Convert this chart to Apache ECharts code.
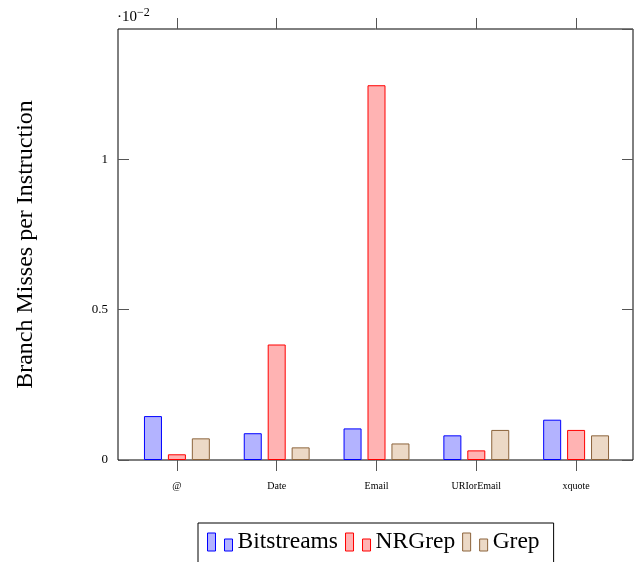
<!DOCTYPE html>
<html><head><meta charset="utf-8">
<script src="https://cdn.jsdelivr.net/npm/echarts@6/dist/echarts.min.js"></script>
<style>html,body{margin:0;padding:0;background:#fff}#c{width:637px;height:562px}</style>
</head><body><div id="c"></div>
<script>
// values in units of 10^-2
const categories = ['@', 'Date', 'Email', 'URIorEmail', 'xquote'];
const bitstreams = [0.146, 0.089, 0.105, 0.082, 0.134];
const nrgrep = [0.019, 0.384, 1.246, 0.032, 0.100];
const grep = [0.072, 0.042, 0.055, 0.100, 0.082];
const yTicks = [0, 0.5, 1];
const yMax = 1.433;

const serif = 'Liberation Serif';
const iconPath = 'path://M0,0h8v18h-8z M17,6h8v12h-8z';

const chart = echarts.init(document.getElementById('c'), null, {renderer: 'canvas'});
function bar(name, data, fill, stroke) {
  return {
    name, type: 'bar', data, xAxisIndex: 2, yAxisIndex: 2,
    barWidth: 18, barGap: '33%',
    itemStyle: {color: fill, borderColor: stroke, borderWidth: 1},
    emphasis: {disabled: true}, animation: false
  };
}
const tickStyle = {color: '#555'};
chart.setOption({
  animation: false,
  grid: [
    {left: 118, right: 4, top: 29, bottom: 102, show: true, borderColor: '#000', borderWidth: 1, backgroundColor: 'transparent'},
    {left: 127, right: 11, top: 29, bottom: 102}
  ],
  xAxis: [
    {gridIndex: 0, type: 'value', min: 0, max: 1, show: false},
    {gridIndex: 1, type: 'category', data: categories, position: 'top', axisLine: {show: false, onZero: false},
     axisTick: {show: true, alignWithLabel: true, length: 11, lineStyle: tickStyle}, axisLabel: {show: false}},
    {gridIndex: 1, type: 'category', data: categories, position: 'bottom', axisLine: {show: false, onZero: false},
     axisTick: {show: true, alignWithLabel: true, length: 11, lineStyle: tickStyle},
     axisLabel: {show: true, margin: 21, fontFamily: serif, fontSize: 10, color: '#000'}}
  ],
  yAxis: [
    {gridIndex: 0, type: 'value', min: 0, max: yMax, interval: 0.5, position: 'left',
     axisLine: {show: false}, splitLine: {show: false},
     axisTick: {show: true, inside: true, length: 11, lineStyle: tickStyle},
     axisLabel: {show: true, showMaxLabel: false, margin: 10, fontFamily: serif, fontSize: 13, color: '#000',
       formatter: v => (yTicks.includes(Math.round(v*100)/100) ? String(Math.round(v*100)/100) : '')},
     name: 'Branch Misses per Instruction', nameLocation: 'middle', nameGap: 80,
     nameTextStyle: {fontFamily: serif, fontSize: 24, color: '#000'}},
    {gridIndex: 0, type: 'value', min: 0, max: yMax, interval: 0.5, position: 'right',
     axisLine: {show: false}, splitLine: {show: false},
     axisTick: {show: true, inside: true, length: 11, lineStyle: tickStyle},
     axisLabel: {show: false}},
    {gridIndex: 1, type: 'value', min: 0, max: yMax, show: false}
  ],
  legend: {
    left: 198, top: 523, orient: 'horizontal',
    padding: [7, 14, 40, 9], itemGap: 7,
    borderColor: '#000', borderWidth: 1,
    itemWidth: 25, itemHeight: 18,
    itemStyle: {borderWidth: 1},
    textStyle: {fontFamily: serif, fontSize: 23.5, color: '#000'},
    data: [
      {name: 'Bitstreams', icon: iconPath},
      {name: 'NRGrep', icon: iconPath},
      {name: 'Grep', icon: iconPath}
    ]
  },
  graphic: [{
    type: 'text', left: 117, top: 7,
    style: {text: '·10{s|−2}', fontFamily: serif, fontSize: 15, fill: '#000',
      rich: {s: {fontFamily: serif, fontSize: 12, fill: '#000', verticalAlign: 'top', padding: [0,0,8,0]}}}
  }],
  series: [
    bar('Bitstreams', bitstreams, 'rgb(179,179,255)', 'rgb(0,0,255)'),
    bar('NRGrep', nrgrep, 'rgb(255,179,179)', 'rgb(255,0,0)'),
    bar('Grep', grep, 'rgb(236,217,198)', 'rgb(140,100,60)')
  ]
});
</script></body></html>
